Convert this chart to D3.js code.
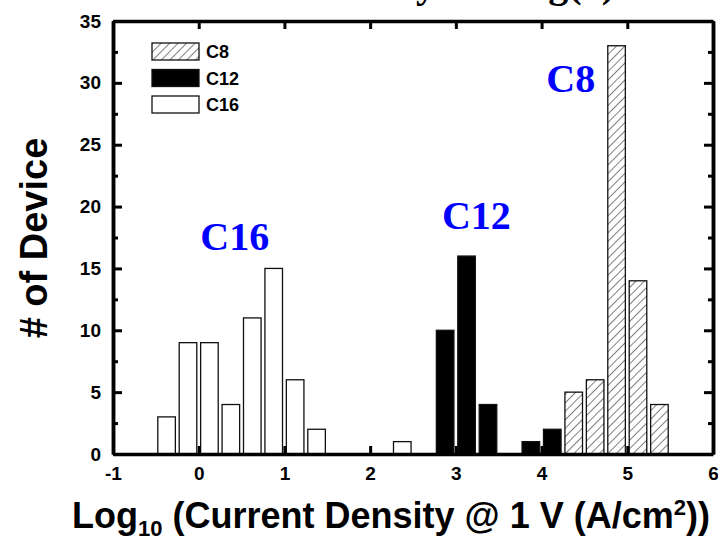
<!DOCTYPE html>
<html>
<head>
<meta charset="utf-8">
<script src="https://cdn.jsdelivr.net/npm/d3@7"></script>
<style>
  body { margin: 0; background: #fff; }
  svg { display: block; }
</style>
</head>
<body>
<script>
// histogram bins (log10 J, bin centres) and device counts
const c16Bins = [-0.375, -0.125, 0.125, 0.375, 0.625, 0.875, 1.125, 1.375, 2.375];
const c16Counts = [3, 9, 9, 4, 11, 15, 6, 2, 1];
const c12Bins = [2.875, 3.125, 3.375, 3.875, 4.125];
const c12Counts = [10, 16, 4, 1, 2];
const c8Bins = [4.375, 4.625, 4.875, 5.125, 5.375];
const c8Counts = [5, 6, 33, 14, 4];

const seriesNames = ["C8", "C12", "C16"];
const xTicks = [-1, 0, 1, 2, 3, 4, 5, 6];
const yTicks = [0, 5, 10, 15, 20, 25, 30, 35];
const yMinorTicks = [2.5, 7.5, 12.5, 17.5, 22.5, 27.5, 32.5];
const labelText = ["C16", "C12", "C8"];
const labelX = [0.42, 3.24, 4.34];
const labelY = [16.5, 18.2, 29.3];

const width = 718, height = 540;
const margin = { top: 21, right: 5, bottom: 86, left: 113 };
const barWidth = 0.205;

const svg = d3.select("body").append("svg")
    .attr("width", width)
    .attr("height", height);

const x = d3.scaleLinear().domain([-1, 6]).range([margin.left, width - margin.right]);
const y = d3.scaleLinear().domain([0, 35]).range([height - margin.bottom, margin.top]);

// hatch pattern for C8
const defs = svg.append("defs");
const pat = defs.append("pattern")
    .attr("id", "hatch")
    .attr("patternUnits", "userSpaceOnUse")
    .attr("width", 6).attr("height", 6)
    .attr("patternTransform", "rotate(45)");
pat.append("rect").attr("width", 6).attr("height", 6).attr("fill", "#fff");
pat.append("line").attr("x1", 0).attr("y1", 0).attr("x2", 0).attr("y2", 6)
    .attr("stroke", "#000").attr("stroke-width", 1);

const fills = { C8: "url(#hatch)", C12: "#000", C16: "#fff" };

// cut-off title at the top
svg.append("text")
    .attr("x", 615).attr("y", -3)
    .attr("text-anchor", "end")
    .attr("font-family", "Liberation Serif")
    .attr("font-weight", "bold")
    .attr("font-size", 40)
    .text("Current Density  vs.  Log(J)");

const series = [
    { name: "C16", bins: c16Bins, counts: c16Counts },
    { name: "C12", bins: c12Bins, counts: c12Counts },
    { name: "C8", bins: c8Bins, counts: c8Counts }
];

series.forEach(s => {
    svg.append("g").selectAll("rect")
        .data(s.bins.map((b, i) => [b, s.counts[i]]))
        .join("rect")
        .attr("x", d => x(d[0] - barWidth / 2))
        .attr("width", d => x(d[0] + barWidth / 2) - x(d[0] - barWidth / 2))
        .attr("y", d => y(d[1]))
        .attr("height", d => y(0) - y(d[1]))
        .attr("fill", fills[s.name])
        .attr("stroke", "#111")
        .attr("stroke-width", 1.3);
});

// axes (ticks pointing inward)
const axisFont = g => g.selectAll("text")
    .attr("font-family", "Liberation Sans")
    .attr("font-weight", "bold")
    .attr("font-size", 19)
    .attr("fill", "#000");

const styleAxis = g => {
    g.select(".domain").style("stroke-width", "3.5px").style("stroke", "#000");
    g.selectAll(".tick line").style("stroke-width", "3px").style("stroke", "#000");
};

svg.append("g")
    .attr("transform", `translate(0,${y(0)})`)
    .call(d3.axisBottom(x).tickValues(xTicks).tickSizeInner(-8).tickSizeOuter(0).tickPadding(13)
        .tickFormat(d => String(d)))
    .call(styleAxis)
    .call(axisFont);

svg.append("g")
    .attr("transform", `translate(0,${y(35)})`)
    .call(d3.axisTop(x).tickValues(xTicks).tickSizeInner(-8).tickSizeOuter(0).tickFormat(""))
    .call(styleAxis);

svg.append("g")
    .attr("transform", `translate(${x(-1)},0)`)
    .call(d3.axisLeft(y).tickValues(yTicks).tickSizeInner(-9).tickSizeOuter(0).tickPadding(12)
        .tickFormat(d => String(d)))
    .call(styleAxis)
    .call(axisFont);

svg.append("g")
    .attr("transform", `translate(${x(-1)},0)`)
    .call(d3.axisLeft(y).tickValues(yMinorTicks).tickSizeInner(-5).tickSizeOuter(0).tickFormat(""))
    .call(styleAxis);

svg.append("g")
    .attr("transform", `translate(${x(6)},0)`)
    .call(d3.axisRight(y).tickValues(yTicks).tickSizeInner(-9).tickSizeOuter(0).tickFormat(""))
    .call(styleAxis);

svg.append("g")
    .attr("transform", `translate(${x(6)},0)`)
    .call(d3.axisRight(y).tickValues(yMinorTicks).tickSizeInner(-5).tickSizeOuter(0).tickFormat(""))
    .call(styleAxis);

// legend
const legend = svg.append("g");
seriesNames.forEach((name, i) => {
    const ly = 43 + i * 26.5;
    legend.append("rect")
        .attr("x", 152).attr("y", ly)
        .attr("width", 47).attr("height", 17)
        .attr("fill", fills[name])
        .attr("stroke", "#111").attr("stroke-width", 1.3);
    legend.append("text")
        .attr("x", 206).attr("y", ly + 15)
        .attr("font-family", "Liberation Sans")
        .attr("font-weight", "bold")
        .attr("font-size", 18)
        .text(name);
});

// blue series labels
labelText.forEach((t, i) => {
    svg.append("text")
        .attr("x", x(labelX[i])).attr("y", y(labelY[i]))
        .attr("text-anchor", "middle")
        .attr("font-family", "Liberation Serif")
        .attr("font-weight", "bold")
        .attr("font-size", 40)
        .attr("fill", "#0000ff")
        .text(t);
});

// axis titles
svg.append("text")
    .attr("transform", `translate(47,${238}) rotate(-90)`)
    .attr("text-anchor", "middle")
    .attr("font-family", "Liberation Sans")
    .attr("font-weight", "bold")
    .attr("font-size", 38)
    .text("# of Device");

const xt = svg.append("text")
    .attr("x", 391).attr("y", 528)
    .attr("text-anchor", "middle")
    .attr("font-family", "Liberation Sans")
    .attr("font-weight", "bold")
    .attr("font-size", 36);
xt.append("tspan").text("Log");
xt.append("tspan").attr("font-size", 22).attr("dy", 8).text("10");
xt.append("tspan").attr("dy", -8).text(" (Current Density @ 1 V (A/cm");
xt.append("tspan").attr("font-size", 22).attr("dy", -13).text("2");
xt.append("tspan").attr("dy", 13).text("))");
</script>
</body>
</html>
